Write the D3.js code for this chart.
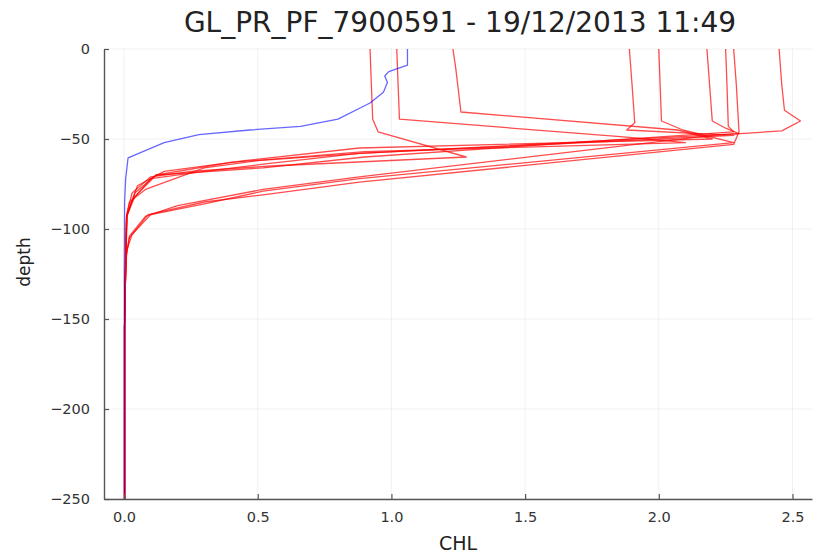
<!DOCTYPE html>
<html><head><meta charset="utf-8">
<script src="https://cdn.jsdelivr.net/npm/d3@7"></script>
<style>body{margin:0;background:#fff}svg{display:block}text{font-family:"DejaVu Sans",sans-serif}</style>
</head><body><svg id="c" width="814" height="554"></svg>
<script>
const title = "GL_PR_PF_7900591 - 19/12/2013 11:49";
const xTicks = [0, 0.5, 1, 1.5, 2, 2.5];
const xTickLabels = ["0.0", "0.5", "1.0", "1.5", "2.0", "2.5"];
const yTicks = [0, -50, -100, -150, -200, -250];
const yTickLabels = ["0", "\u221250", "\u2212100", "\u2212150", "\u2212200", "\u2212250"];

// current profile (blue): [CHL, depth]
const blueProfile = [[1.06,0],[1.06,-9],[0.99,-12.6],[0.975,-15],[0.985,-18.6],[0.97,-24],[0.92,-30],[0.8,-39],[0.66,-43],[0.47,-45],[0.28,-47.6],[0.15,-52],[0.015,-60.5],[0.006,-72],[0.002,-85],[0.001,-120],[0.001,-250]];

// other profiles (red)
const red1 = [[0.92,0],[0.925,-20],[0.93,-39],[0.95,-46],[1.28,-60],[0.55,-65],[0.25,-68],[0.1,-71],[0.03,-80],[0.01,-92],[0.006,-120],[0.002,-155],[0.002,-250]];
const red2 = [[1.02,0],[1.025,-20],[1.03,-39],[1.88,-49],[2.1,-52],[0.9,-57],[0.4,-63],[0.12,-70],[0.04,-82],[0.01,-93],[0.006,-120],[0.002,-155],[0.002,-250]];
const red3 = [[1.23,0],[1.24,-10],[1.26,-35],[2.07,-45],[2.2,-50],[0.88,-55],[0.45,-62],[0.15,-68],[0.05,-76],[0.012,-92],[0.006,-120],[0.002,-155],[0.002,-250]];
const red4 = [[1.89,0],[1.9,-20],[1.91,-41],[1.88,-45],[2.28,-48],[0.88,-58],[0.52,-64],[0.3,-68],[0.1,-72],[0.03,-84],[0.01,-93],[0.006,-120],[0.002,-155],[0.002,-250]];
const red5 = [[2.0,0],[2.005,-20],[2.01,-40],[2.09,-45],[2.28,-52],[0.88,-72],[0.52,-79],[0.3,-86],[0.1,-92],[0.03,-103],[0.01,-112],[0.005,-130],[0.002,-155],[0.002,-250]];
const red6 = [[2.18,0],[2.19,-20],[2.2,-40],[2.25,-44],[2.3,-47],[0.88,-58],[0.5,-62],[0.3,-66],[0.08,-78],[0.02,-85],[0.008,-94],[0.005,-120],[0.002,-155],[0.002,-250]];
const red7 = [[2.25,0],[2.255,-20],[2.26,-43],[2.28,-46],[0.9,-60],[0.52,-66],[0.12,-70],[0.04,-80],[0.01,-93],[0.005,-120],[0.002,-155],[0.002,-250]];
const red8 = [[2.28,0],[2.29,-20],[2.3,-46],[2.28,-53],[0.88,-74],[0.52,-81],[0.3,-85],[0.09,-92],[0.02,-105],[0.008,-115],[0.004,-135],[0.002,-155],[0.002,-250]];
const red9 = [[2.45,0],[2.46,-20],[2.47,-34],[2.53,-40],[2.46,-45.5],[2.2,-48],[0.88,-71],[0.52,-78],[0.2,-87],[0.08,-93],[0.02,-104],[0.008,-115],[0.004,-135],[0.002,-155],[0.002,-250]];
const redProfiles = [red1, red2, red3, red4, red5, red6, red7, red8, red9];

const svg = d3.select("#c");
const L = 104, R = 812, T = 49, B = 499;
const x = d3.scaleLinear().domain([-0.075, 2.573]).range([L, R]);
const y = d3.scaleLinear().domain([-250, 0]).range([B, T]);

// grid
svg.append("g").selectAll("line").data(xTicks).join("line")
  .attr("x1", d => x(d)).attr("x2", d => x(d)).attr("y1", T).attr("y2", B)
  .attr("stroke", "#000").attr("stroke-opacity", 0.1).attr("stroke-width", 0.6);
svg.append("g").selectAll("line").data(yTicks).join("line")
  .attr("y1", d => y(d)).attr("y2", d => y(d)).attr("x1", L).attr("x2", R)
  .attr("stroke", "#000").attr("stroke-opacity", 0.1).attr("stroke-width", 0.6);

const line = d3.line().x(d => x(d[0])).y(d => y(d[1]));
const gl = svg.append("g");
redProfiles.forEach(p => gl.append("path").attr("d", line(p)).attr("fill", "none")
  .attr("stroke", "#ff0000").attr("stroke-opacity", 0.7).attr("stroke-width", 1.3).attr("stroke-linejoin", "round"));
gl.append("path").attr("d", line(blueProfile)).attr("fill", "none")
  .attr("stroke", "#0000ff").attr("stroke-opacity", 0.6).attr("stroke-width", 1.3).attr("stroke-linejoin", "round");

// axes
const xAxis = d3.axisBottom(x).tickValues(xTicks).tickFormat((d, i) => xTickLabels[i]).tickSizeInner(-5).tickSizeOuter(0).tickPadding(13);
const yAxis = d3.axisLeft(y).tickValues(yTicks).tickFormat((d, i) => yTickLabels[i]).tickSizeInner(-5).tickSizeOuter(0).tickPadding(14);
const gx = svg.append("g").attr("transform", `translate(0,${B})`).call(xAxis);
const gy = svg.append("g").attr("transform", `translate(${L},0)`).call(yAxis);
[gx, gy].forEach(g => {
  g.select(".domain").attr("stroke", "#555").attr("stroke-width", 1.4);
  g.selectAll(".tick line").attr("stroke", "#555").attr("stroke-width", 1.2);
  g.selectAll(".tick text").attr("fill", "#333").style("font-size", "14.5px").style("font-family", "DejaVu Sans, sans-serif");
});

svg.append("text").attr("x", 460).attr("y", 32).attr("text-anchor", "middle")
  .style("font-size", "28px").attr("fill", "#222").text(title);
svg.append("text").attr("x", 458).attr("y", 550).attr("text-anchor", "middle")
  .style("font-size", "19px").attr("fill", "#222").text("CHL");
svg.append("text").attr("transform", "translate(30,262) rotate(-90)").attr("text-anchor", "middle")
  .style("font-size", "17px").attr("fill", "#222").text("depth");
</script></body></html>
